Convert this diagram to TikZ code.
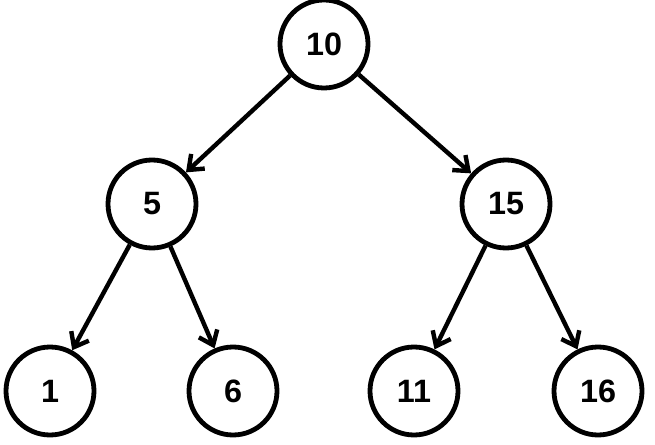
\documentclass[tikz,border=0pt]{standalone}
\usepackage{fontspec}
\setmainfont{Liberation Sans}
\usepackage{tikz}
\usetikzlibrary{arrows.meta, positioning}
\tikzstyle{key} = [circle, line width=0.12cm, minimum size=2.2cm, inner sep=0pt, draw=black, font=\fontsize{23}{26}\selectfont\bfseries]
\tikzstyle{arrow} = [line width=0.11cm, -{Straight Barb[length=3.2mm, width=5mm]}]

\begin{document}
\begin{tikzpicture}[on grid, auto]
		\useasboundingbox (0,0) rectangle (16.375,-11.125);
		\node (Root) [key] at (8.1,-1.1) {10};
		\node (Left) [key, below left = 4cm and 4.3cm of Root] {5};
		\node (Right) [key, below right = 4cm and 4.55cm of Root] {15};
		\node (LeftLeft) [key, below left = 4.675cm and 2.55cm of Left] {1};
		\node (LeftRight) [key, below right = 4.675cm and 2.025cm of Left] {6};
		\node (RightLeft) [key, below left = 4.675cm and 2.3cm of Right] {11};
		\node (RightRight) [key, below right = 4.675cm and 2.3cm of Right] {16};
		\draw [arrow] (Root) -- (Left);
		\draw [arrow] (Root) -- (Right);
		\draw [arrow] (Left) -- (LeftLeft);
		\draw [arrow] (Left) -- (LeftRight);
		\draw [arrow] (Right) -- (RightLeft);
		\draw [arrow] (Right) -- (RightRight);
	\end{tikzpicture}
\end{document}
